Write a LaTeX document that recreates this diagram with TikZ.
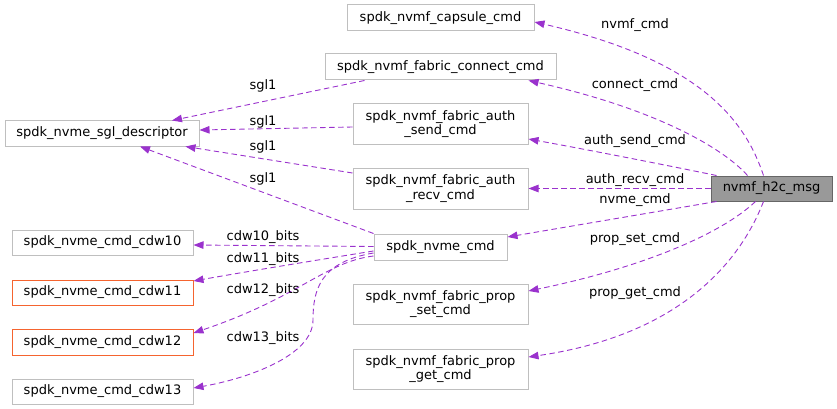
\documentclass[tikz,border=0pt]{standalone}
\usepackage{fontspec}
\setmainfont{DejaVu Sans}
\usetikzlibrary{arrows.meta}
\definecolor{edgec}{HTML}{9A32CD}
\definecolor{boxc}{HTML}{BFBFBF}
\definecolor{redc}{HTML}{F5642F}
\begin{document}
\begin{tikzpicture}[x=1pt,y=-1pt,
  every node/.style={font=\fontsize{13}{14.5}\selectfont, inner sep=0pt},
  box/.style={draw=boxc, line width=1pt, fill=white, align=center},
  redbox/.style={draw=redc, line width=1pt, fill=white, align=center},
  mainbox/.style={draw=black!60, line width=1pt, fill=black!40, align=center},
  rel/.style={draw=edgec, line width=0.9pt, dash pattern=on 5.5pt off 3.5pt, -{Triangle[length=10pt,width=7.5pt]}},
  lab/.style={anchor=center}]
\useasboundingbox (0,0) rectangle (837,409);
% nodes
\node[mainbox, minimum width=121pt, minimum height=25pt] (h2c) at (771.5,188.5) {nvmf\_h2c\_msg};
\node[box, minimum width=187pt, minimum height=26pt] (caps) at (440.5,18) {spdk\_nvmf\_capsule\_cmd};
\node[box, minimum width=231pt, minimum height=26pt] (conn) at (440.5,67) {spdk\_nvmf\_fabric\_connect\_cmd};
\node[box, minimum width=175pt, minimum height=40pt] (asend) at (440.5,124) {spdk\_nvmf\_fabric\_auth\\\_send\_cmd};
\node[box, minimum width=175pt, minimum height=41pt] (arecv) at (440.5,188.5) {spdk\_nvmf\_fabric\_auth\\\_recv\_cmd};
\node[box, minimum width=133pt, minimum height=26pt] (ncmd) at (440.5,247) {spdk\_nvme\_cmd};
\node[box, minimum width=175pt, minimum height=40pt] (pset) at (440.5,304) {spdk\_nvmf\_fabric\_prop\\\_set\_cmd};
\node[box, minimum width=175pt, minimum height=40pt] (pget) at (440.5,369) {spdk\_nvmf\_fabric\_prop\\\_get\_cmd};
\node[box, minimum width=194pt, minimum height=25pt] (sgl) at (102,133.5) {spdk\_nvme\_sgl\_descriptor};
\node[box, minimum width=181pt, minimum height=25pt] (c10) at (102.5,242.5) {spdk\_nvme\_cmd\_cdw10};
\node[redbox, minimum width=181pt, minimum height=25pt] (c11) at (102.5,292.5) {spdk\_nvme\_cmd\_cdw11};
\node[redbox, minimum width=181pt, minimum height=26pt] (c12) at (102.5,342) {spdk\_nvme\_cmd\_cdw12};
\node[box, minimum width=181pt, minimum height=25pt] (c13) at (102.5,391.5) {spdk\_nvme\_cmd\_cdw13};
% edges from h2c
\draw[rel] ([xshift=-8pt]h2c.north) .. controls (745,120) and (700,60) .. (caps.east |- 0,22);
\draw[rel] ([xshift=-24pt]h2c.north) .. controls (725,150) and (660,110) .. ([xshift=-28pt]conn.south east);
\draw[rel] ([xshift=6pt]h2c.north west) .. controls (680,168) and (600,152) .. (asend.east |- 0,139);
\draw[rel] (h2c.west) -- (arecv.east);
\draw[rel] ([xshift=6pt]h2c.south west) -- (ncmd.east |- 0,237);
\draw[rel] ([xshift=-16pt]h2c.south) .. controls (720,235) and (640,268) .. (pset.east |- 0,291);
\draw[rel] ([xshift=-8pt]h2c.south) .. controls (740,262) and (680,335) .. (pget.east |- 0,357);
% edges to sgl
\draw[rel] ([xshift=40pt]conn.south west) -- ([xshift=70pt]sgl.north);
\draw[rel] (asend.west |- 0,127) -- (sgl.east |- 0,130);
\draw[rel] (arecv.west |- 0,173) -- ([xshift=-14pt]sgl.south east);
\draw[rel] (ncmd.north west) -- ([xshift=38pt]sgl.south);
% edges to cdw
\draw[rel] (ncmd.west |- 0,246.5) -- (c10.east |- 0,245);
\draw[rel] (ncmd.west |- 0,251) .. controls (330,258) and (250,271) .. (c11.east |- 0,281);
\draw[rel] (ncmd.west |- 0,256) .. controls (325,262) and (300,297) .. (c12.east |- 0,333);
\draw[rel] (ncmd.west |- 0,253) .. controls (320,262) and (313,290) .. (313,320) .. controls (313,355) and (250,378) .. (c13.east |- 0,388);
% labels
\node[lab] (l1) at (635,25) {nvmf\_cmd};
\node[lab] (l2) at (635,85) {connect\_cmd};
\node[lab] (l3) at (635,141) {auth\_send\_cmd};
\node[lab] (l4) at (635,180) {auth\_recv\_cmd};
\node[lab] (l5) at (635,200) {nvme\_cmd};
\node[lab] (l6) at (635,239) {prop\_set\_cmd};
\node[lab] (l7) at (635,293) {prop\_get\_cmd};
\node[lab] (s1) at (263,86) {sgl1};
\node[lab] (s2) at (263,122) {sgl1};
\node[lab] (s3) at (263,147) {sgl1};
\node[lab] (s4) at (263,179) {sgl1};
\node[lab] (b10) at (263,237) {cdw10\_bits};
\node[lab] (b11) at (263,259) {cdw11\_bits};
\node[lab] (b12) at (263,290) {cdw12\_bits};
\node[lab] (b13) at (263,338) {cdw13\_bits};
\end{tikzpicture}
\end{document}
